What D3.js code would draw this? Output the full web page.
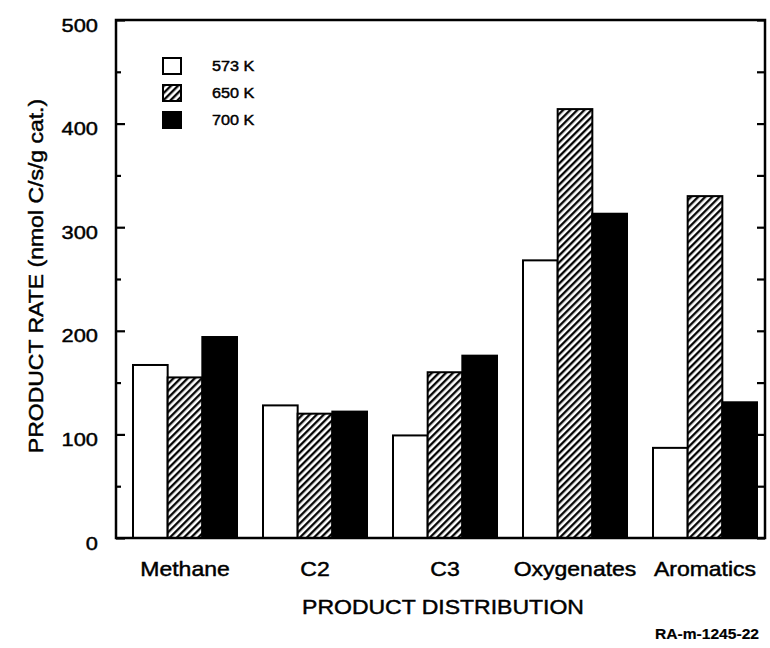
<!DOCTYPE html>
<html>
<head>
<meta charset="utf-8">
<script src="https://cdn.jsdelivr.net/npm/d3@7"></script>
<style>
  html, body { margin: 0; padding: 0; background: #fff; }
  svg { display: block; }
  text { font-family: "Liberation Sans", Arial, Helvetica, sans-serif; fill: #000; stroke: #000; stroke-width: 0.45px; }
</style>
</head>
<body>
<svg id="chart" width="770" height="648"></svg>
<script>
// ---- data ----
const categories = ["Methane", "C2", "C3", "Oxygenates", "Aromatics"];
const seriesNames = ["573 K", "650 K", "700 K"];
const values573 = [167, 128, 99, 268, 87];
const values650 = [155, 120, 160, 414, 330];
const values700 = [194, 122, 176, 313, 131];
const majorTicks = [0, 100, 200, 300, 400, 500];
const minorTicks = [50, 150, 250, 350, 450];
const yTitle = "PRODUCT RATE (nmol C/s/g cat.)";
const xTitle = "PRODUCT DISTRIBUTION";
const figCode = "RA-m-1245-22";

const seriesValues = [values573, values650, values700];

// ---- layout ----
const W = 770, H = 648;
const plotL = 116, plotR = 765, plotT = 20, plotB = 538;
const SX = 1.15; // horizontal stretch of lettering

const svg = d3.select("#chart");
svg.append("rect").attr("width", W).attr("height", H).attr("fill", "#fff");

const defs = svg.append("defs");
const pat = defs.append("pattern")
  .attr("id", "hatch")
  .attr("patternUnits", "userSpaceOnUse")
  .attr("width", 5).attr("height", 5)
  .attr("patternTransform", "rotate(45)");
pat.append("rect").attr("width", 5).attr("height", 5).attr("fill", "#fff");
pat.append("line").attr("x1", 1.2).attr("y1", 0).attr("x2", 1.2).attr("y2", 5)
  .attr("stroke", "#000").attr("stroke-width", 2.3);

const fills = ["#fff", "url(#hatch)", "#000"];

const y = d3.scaleLinear().domain([0, 500]).range([plotB, plotT]);
const x0 = d3.scaleBand().domain(categories).range([133, 757]).paddingInner(0.2).paddingOuter(0);
const x1 = d3.scaleBand().domain(d3.range(3)).range([0, x0.bandwidth()]).padding(0);

// bars
const groups = svg.append("g").selectAll("g")
  .data(categories).join("g")
  .attr("transform", d => `translate(${x0(d)},0)`);

groups.selectAll("rect")
  .data((d, i) => seriesValues.map((arr, s) => ({ s, v: arr[i] })))
  .join("rect")
  .attr("x", d => x1(d.s))
  .attr("y", d => y(d.v))
  .attr("width", x1.bandwidth())
  .attr("height", d => y(0) - y(d.v))
  .attr("fill", d => fills[d.s])
  .attr("stroke", "#000")
  .attr("stroke-width", 2);

// axes
function stretchTexts(sel, dyPx) {
  sel.selectAll("text").each(function () {
    const t = d3.select(this);
    const xx = +t.attr("x") || 0;
    t.attr("x", 0).attr("transform", `translate(${xx},${dyPx}) scale(${SX},1)`);
  });
}

const gLeft = svg.append("g").attr("transform", `translate(${plotL},0)`)
  .call(d3.axisLeft(y).tickValues(majorTicks).tickSizeInner(-9).tickSizeOuter(0).tickPadding(18));
gLeft.select(".domain").remove();
gLeft.attr("font-family", null).attr("font-size", null);
gLeft.selectAll("text").attr("font-size", 19);
stretchTexts(gLeft, 5);

const gLeftMinor = svg.append("g").attr("transform", `translate(${plotL},0)`)
  .call(d3.axisLeft(y).tickValues(minorTicks).tickSizeInner(-5).tickSizeOuter(0).tickFormat(""));
gLeftMinor.select(".domain").remove();

const gRight = svg.append("g").attr("transform", `translate(${plotR},0)`)
  .call(d3.axisRight(y).tickValues(majorTicks.concat(minorTicks)).tickSizeInner(-8).tickSizeOuter(0).tickFormat(""));
gRight.select(".domain").remove();

svg.selectAll(".tick line").attr("stroke", "#000").attr("stroke-width", 2.2);

// frame
svg.append("rect")
  .attr("x", plotL).attr("y", plotT)
  .attr("width", plotR - plotL).attr("height", plotB - plotT)
  .attr("fill", "none").attr("stroke", "#000").attr("stroke-width", 2.5);

// category labels
svg.append("g").selectAll("text")
  .data(categories).join("text")
  .attr("transform", d => `translate(${x0(d) + x0.bandwidth() / 2},576) scale(${SX},1)`)
  .attr("text-anchor", "middle")
  .attr("font-size", 20)
  .text(d => d);

// axis titles
svg.append("text")
  .attr("transform", `translate(443,614) scale(${SX},1)`)
  .attr("text-anchor", "middle")
  .attr("font-size", 20)
  .text(xTitle);

svg.append("text")
  .attr("transform", `translate(43,276) rotate(-90) scale(${SX},1)`)
  .attr("text-anchor", "middle")
  .attr("font-size", 20)
  .text(yTitle);

// legend
const legend = svg.append("g").attr("transform", "translate(163,58)");
const lg = legend.selectAll("g").data(seriesNames).join("g")
  .attr("transform", (d, i) => `translate(0,${i * 27})`);
lg.append("rect")
  .attr("width", 18).attr("height", 16)
  .attr("fill", (d, i) => fills[i])
  .attr("stroke", "#000").attr("stroke-width", 2);
lg.append("text")
  .attr("transform", `translate(49,13) scale(1.08,1)`)
  .attr("font-size", 15)
  .text(d => d);

// figure code
svg.append("text")
  .attr("transform", `translate(655,639) scale(1.04,1)`)
  .attr("font-size", 15)
  .attr("font-weight", "bold")
  .style("stroke-width", "0.2px")
  .text(figCode);
</script>
</body>
</html>
